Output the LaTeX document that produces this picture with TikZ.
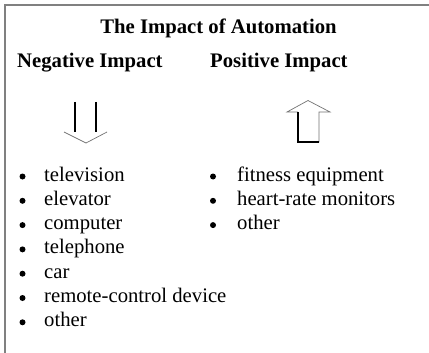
\documentclass[tikz,border=0pt]{standalone}
\usepackage{fontspec}
\setmainfont{Liberation Serif}
\begin{document}
\begin{tikzpicture}[x=1pt,y=-1pt,
  txt/.style={anchor=base west,inner sep=0pt,font=\fontsize{20.7}{24}\selectfont},
  hdr/.style={txt,font=\fontsize{20.7}{24}\selectfont\bfseries},
  bul/.style={circle,fill=black,inner sep=0pt,minimum size=6pt},
  frame/.style={draw=black!50,line width=2pt},
  thin/.style={draw=black!55,line width=0.7pt},
  thick/.style={draw=black,line width=2pt}]
\useasboundingbox (0,0) rectangle (429,353);
\fill[white] (0,0) rectangle (429,353);
\draw[frame] (429,5) -- (5,5) -- (5,353);
\node[hdr,anchor=base] (title) at (218.5,34) {The Impact of Automation};
\node[hdr] (neg) at (17,68) {Negative Impact};
\node[hdr] (pos) at (210,68) {Positive Impact};
% down arrow
\draw[thick] (75,102) -- (75,132);
\draw[thick] (96,102) -- (96,132);
\draw[thin] (64,132) -- (86,143) -- (107,132);
% up arrow
\draw[thin] (297.5,142) -- (297.5,112) -- (287,112) -- (308,100.5) -- (330,112) -- (319,112) -- (319,142) -- cycle;
\draw[thick] (297.5,112) -- (297.5,142) -- (319,142);
% left list
\foreach \t [count=\i] in {television,elevator,computer,telephone,car,remote-control device,other}{
  \node[bul] (lb\i) at (22.5,176.5+24.3*\i-24.3) {};
  \node[txt] (lt\i) at (44,181+24.3*\i-24.3) {\t};
}
\foreach \t [count=\i] in {fitness equipment,heart-rate monitors,other}{
  \node[bul] (rb\i) at (213,176.5+24.3*\i-24.3) {};
  \node[txt] (rt\i) at (237,181+24.3*\i-24.3) {\t};
}
\end{tikzpicture}
\end{document}
